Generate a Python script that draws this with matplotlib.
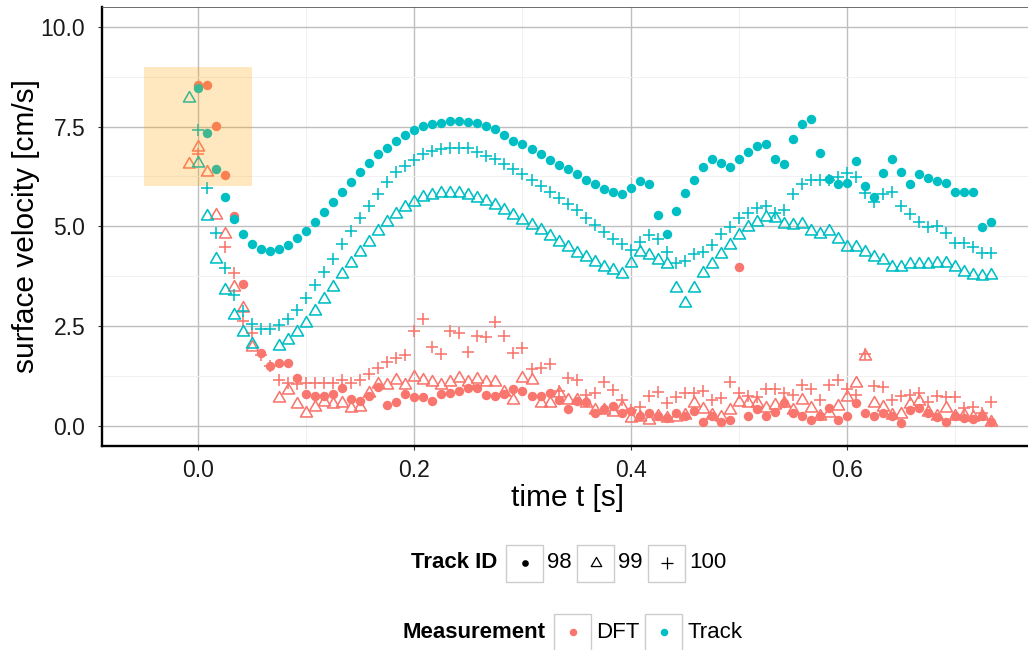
import numpy as np
import matplotlib
matplotlib.use("Agg")
import matplotlib.pyplot as plt
from matplotlib.lines import Line2D
from matplotlib.patches import Rectangle
from matplotlib.path import Path
from matplotlib.ticker import FixedLocator, FixedFormatter

plt.rcParams['font.family'] = ['Liberation Sans', 'DejaVu Sans']

# ---------------------------------------------------------------------------
# Data: surface velocity [cm/s] per video frame (120 fps), frames -1 .. 88
# ---------------------------------------------------------------------------
FPS = 120
frame = np.arange(-1, 89)
nan = np.nan

# Measurement "Track"
track_98 = [nan, 8.47, 7.33, 6.43, 5.74, 5.18, 4.81, 4.56, 4.42, 4.37, 4.42,
            4.53, 4.70, 4.89, 5.10, 5.35, 5.60, 5.85, 6.10, 6.35, 6.59,
            6.81, 6.97, 7.15, 7.30, 7.41, 7.51, 7.56, 7.60, 7.63, 7.63,
            7.62, 7.58, 7.52, 7.43, 7.30, 7.14, 7.06, 6.94, 6.81, 6.66,
            6.54, 6.43, 6.30, 6.17, 6.05, 5.94, 5.87, 5.80, 5.95, 6.13,
            6.05, 5.28, 4.80, 5.38, 5.83, 6.16, 6.49, 6.70, 6.60, 6.49,
            6.68, 6.87, 7.02, 7.06, 6.68, 6.55, 7.18, 7.56, 7.68, 6.83,
            6.18, 6.05, 6.09, 6.65, 6.02, 5.73, 6.33, 6.70, 6.37, 6.05,
            6.30, 6.22, 6.14, 6.08, 5.87, 5.85, 5.85, 4.97, 5.10]
track_99 = [8.23, 6.60, 5.26, 4.19, 3.40, 2.77, 2.35, 2.06, nan, nan, 2.01,
            2.15, 2.34, 2.58, 2.88, 3.18, 3.49, 3.80, 4.07, 4.36, 4.61,
            4.88, 5.12, 5.31, 5.48, 5.62, 5.73, 5.79, 5.83, 5.84, 5.84,
            5.78, 5.70, 5.63, 5.53, 5.41, 5.28, 5.16, 5.03, 4.91, 4.76,
            4.61, 4.49, 4.34, 4.22, 4.11, 3.98, 3.90, 3.81, 4.08, 4.36,
            4.28, 4.15, 4.06, 3.45, 3.07, 3.46, 3.82, 4.06, 4.31, 4.53,
            4.78, 4.99, 5.12, 5.24, 5.20, 5.06, 5.03, 5.05, 4.87, 4.80,
            4.87, 4.67, 4.49, 4.49, 4.36, 4.24, 4.15, 3.97, 3.97, 4.05,
            4.05, 4.05, 4.09, 4.09, 3.97, 3.85, 3.78, 3.75, 3.78]
track_100 = [nan, 7.41, 5.97, 4.84, 3.95, 3.28, 2.88, 2.56, 2.43, 2.43, 2.52,
             2.67, 2.89, 3.20, 3.52, 3.85, 4.17, 4.56, 4.89, 5.22, 5.51,
             5.80, 6.12, 6.37, 6.51, 6.66, 6.81, 6.90, 6.95, 6.97, 6.97,
             6.96, 6.87, 6.76, 6.69, 6.56, 6.44, 6.30, 6.16, 6.01, 5.87,
             5.70, 5.55, 5.41, 5.20, 5.03, 4.85, 4.68, 4.55, 4.40, 4.61,
             4.78, 4.67, 4.35, 4.07, 4.12, 4.30, 4.36, 4.54, 4.80, 4.99,
             5.20, 5.34, 5.45, 5.51, 5.33, 5.41, 5.80, 6.06, 6.17, 6.16,
             6.16, 6.23, 6.33, 6.24, 5.84, 5.62, 5.80, 5.85, 5.51, 5.31,
             5.12, 4.97, 5.01, 4.82, 4.57, 4.57, 4.49, 4.32, 4.32]

# Measurement "DFT"
dft_98 = [nan, 8.54, 8.54, 7.51, 6.28, 5.26, 3.55, nan, 1.83, 1.50, 1.56,
          1.56, 1.19, 0.79, 0.75, 0.75, 0.79, 0.94, 0.66, 0.62, 0.74,
          0.96, 0.52, 0.60, 0.79, 0.71, 0.71, 0.62, 0.79, 0.83, 0.88,
          0.94, 0.94, 0.77, 0.75, 0.79, 0.92, 0.88, 0.75, 0.75, 0.81,
          0.64, 0.41, 0.63, 0.59, 0.31, 0.42, 0.49, 0.31, 0.38, 0.23,
          0.33, 0.24, 0.18, 0.33, 0.24, 0.38, 0.08, 0.24, 0.08, 0.14,
          3.99, 0.25, 0.42, 0.24, 0.35, 0.56, 0.31, 0.24, 0.14, 0.24,
          0.44, 0.14, 0.23, 0.58, 0.31, 0.24, 0.31, 0.24, 0.06, 0.39,
          0.44, 0.31, 0.21, 0.10, 0.23, 0.19, 0.16, 0.24, 0.10]
dft_99 = [6.56, 6.98, 6.37, 5.28, 4.80, 3.49, 2.94, 1.98, nan, nan, 0.70,
          0.90, 0.54, 0.31, 0.48, 0.60, 0.54, 0.56, 0.44, 0.48, 0.81,
          1.05, 1.02, 1.15, 1.02, 1.21, 1.15, 1.10, 1.03, 1.10, 1.20,
          1.10, 1.16, 1.10, 1.10, 0.85, 0.64, 1.19, 1.15, 0.58, 0.58,
          0.83, 0.64, 0.64, 0.58, 0.39, 0.40, 0.35, 0.46, 0.20, 0.22,
          0.14, 0.24, 0.20, 0.21, 0.27, 0.56, 0.41, 0.27, 0.21, 0.39,
          0.60, 0.58, 0.58, 0.44, 0.52, 0.58, 0.39, 0.64, 0.44, 0.24,
          0.31, 0.49, 0.73, 1.08, 1.75, 0.56, 0.46, 0.27, 0.29, 0.54,
          0.63, 0.35, 0.24, 0.44, 0.23, 0.27, 0.21, 0.24, 0.10]
dft_100 = [nan, 6.82, nan, nan, 4.49, 3.82, 2.63, 2.32, 1.77, 1.50, 1.15,
           1.06, 1.05, 1.06, 1.06, 1.08, 1.06, 1.15, 1.06, 1.15, 1.30,
           1.44, 1.59, 1.69, 1.77, 2.37, 2.68, 1.97, 1.80, 2.38, 2.32,
           1.85, 2.25, 2.23, 2.59, 2.25, 1.83, 1.94, 1.43, 1.44, 1.55,
           0.87, 1.19, 1.15, 0.77, 0.83, 1.10, 0.90, 0.64, 0.40, 0.48,
           0.74, 0.85, 0.56, 0.73, 0.81, 0.83, 0.88, 0.64, 0.69, 1.10,
           0.81, 0.74, 0.73, 0.91, 0.91, 0.81, 0.77, 1.02, 0.91, 0.64,
           1.02, 1.15, 0.91, 0.77, 1.80, 1.00, 0.96, 0.64, 0.74, 0.77,
           0.81, 0.60, 0.74, 0.73, 0.73, 0.44, 0.48, 0.31, 0.60]

# Highlighted window (time range, velocity range)
highlight_t = (-0.05, 0.05)
highlight_v = (6.0, 9.0)

x_ticks = [0.0, 0.2, 0.4, 0.6]
x_tick_labels = ["0.0", "0.2", "0.4", "0.6"]
y_ticks = [0.0, 2.5, 5.0, 7.5, 10.0]
y_tick_labels = ["0.0", "2.5", "5.0", "7.5", "10.0"]

track_ids = ["98", "99", "100"]
measurements = ["DFT", "Track"]

# ---------------------------------------------------------------------------
# Styling
# ---------------------------------------------------------------------------
COL = {"DFT": "#F8766D", "Track": "#00BFC4"}
TRI = Path([(0, 1), (-0.866, -0.5), (0.866, -0.5), (0, 1)], closed=True)
SHAPE = {
    "98": dict(marker="o", ms=6.8, mew=0, fill=True),
    "99": dict(marker=TRI, ms=10.0, mew=1.15, fill=False),
    "100": dict(marker="+", ms=8.8, mew=1.15, fill=False),
}

W, H = 1028, 650
fig = plt.figure(figsize=(W / 100, H / 100), dpi=100)

# axes placed in pixel units
ax_l, ax_r, ax_t, ax_b = 101.5, 1033.6, 7.0, 445.6
ax = fig.add_axes([ax_l / W, 1 - ax_b / H, (ax_r - ax_l) / W, (ax_b - ax_t) / H])
ax.set_xlim(-0.0892, 0.7725)
ax.set_ylim(-0.5, 10.5)

t = frame / FPS
series = {
    ("DFT", "98"): dft_98, ("DFT", "99"): dft_99, ("DFT", "100"): dft_100,
    ("Track", "98"): track_98, ("Track", "99"): track_99, ("Track", "100"): track_100,
}
for meas in measurements:
    for tid in track_ids:
        vals = np.asarray(series[(meas, tid)], dtype=float)
        s = SHAPE[tid]
        c = COL[meas]
        ax.plot(t, vals, linestyle="none", marker=s["marker"], markersize=s["ms"],
                markeredgewidth=s["mew"], markeredgecolor=c,
                markerfacecolor=c if s["fill"] else "none", zorder=3)

ax.add_patch(Rectangle((highlight_t[0], highlight_v[0]),
                       highlight_t[1] - highlight_t[0],
                       highlight_v[1] - highlight_v[0],
                       facecolor="orange", alpha=0.25, edgecolor="none", zorder=4))

# ticks and grid
ax.xaxis.set_major_locator(FixedLocator(x_ticks))
ax.xaxis.set_major_formatter(FixedFormatter(x_tick_labels))
ax.yaxis.set_major_locator(FixedLocator(y_ticks))
ax.yaxis.set_major_formatter(FixedFormatter(y_tick_labels))
ax.xaxis.set_minor_locator(FixedLocator([-0.1, 0.1, 0.3, 0.5, 0.7]))
ax.yaxis.set_minor_locator(FixedLocator([1.25, 3.75, 6.25, 8.75]))
ax.grid(which="major", color="#BEBEBE", linewidth=1.0, zorder=0)
ax.grid(which="minor", color="#F1F1F1", linewidth=0.7, zorder=0)
ax.set_axisbelow(True)
ax.tick_params(which="major", length=3.2, width=0.8, color="#333333",
               labelsize=16.5, labelcolor="#1A1A1A")
ax.tick_params(axis="x", which="major", pad=6.5)
ax.tick_params(axis="y", which="major", pad=8.5)
ax.tick_params(which="minor", length=0)

for side in ("left", "bottom"):
    ax.spines[side].set_color("black")
    ax.spines[side].set_linewidth(1.7)
ax.spines["top"].set_color("#555555")
ax.spines["top"].set_linewidth(0.6)
ax.spines["right"].set_visible(False)

ax.set_xlabel("time t [s]", fontsize=21.5, labelpad=1.5)
ax.set_ylabel("surface velocity [cm/s]", fontsize=21.5, labelpad=0.5)


# ---------------------------------------------------------------------------
# Legends (ggplot-style, two rows under the panel)
# ---------------------------------------------------------------------------
def fx(x):
    return x / W


def fy(y):
    return 1 - y / H


def key_box(x0, y0, size=37):
    fig.add_artist(Rectangle((fx(x0), fy(y0 + size)), size / W, size / H,
                             transform=fig.transFigure, facecolor="white",
                             edgecolor="#CCCCCC", linewidth=1.0))


def key_marker(x, y, color, marker, ms, mew, fill):
    fig.add_artist(Line2D([fx(x)], [fy(y)], transform=fig.transFigure,
                          linestyle="none", marker=marker, markersize=ms,
                          markeredgewidth=mew, markeredgecolor=color,
                          markerfacecolor=color if fill else "none"))


LEG_FS = 16
row1 = 563
fig.text(fx(497), fy(row1), "Track ID", fontsize=LEG_FS, fontweight="bold",
         ha="right", va="center")
key_x = [506, 577, 648]
key_ms = {"98": 4.8, "99": 8.8, "100": 8.0}
for tid, kx in zip(track_ids, key_x):
    key_box(kx, row1 - 18.5)
    s = SHAPE[tid]
    key_marker(kx + 18.5, row1, "black", s["marker"], key_ms[tid],
               0 if s["fill"] else 0.9, s["fill"])
    fig.text(fx(kx + 41), fy(row1), tid, fontsize=LEG_FS, ha="left", va="center")

row2 = 632
fig.text(fx(545), fy(row2), "Measurement", fontsize=LEG_FS, fontweight="bold",
         ha="right", va="center")
for meas, kx in zip(measurements, [554, 645]):
    key_box(kx, row2 - 18.5)
    key_marker(kx + 18.5, row2, COL[meas], "o", 5.4, 0, True)
    fig.text(fx(kx + 42), fy(row2), meas, fontsize=LEG_FS, ha="left", va="center")

fig.savefig("out.png", dpi=100)
